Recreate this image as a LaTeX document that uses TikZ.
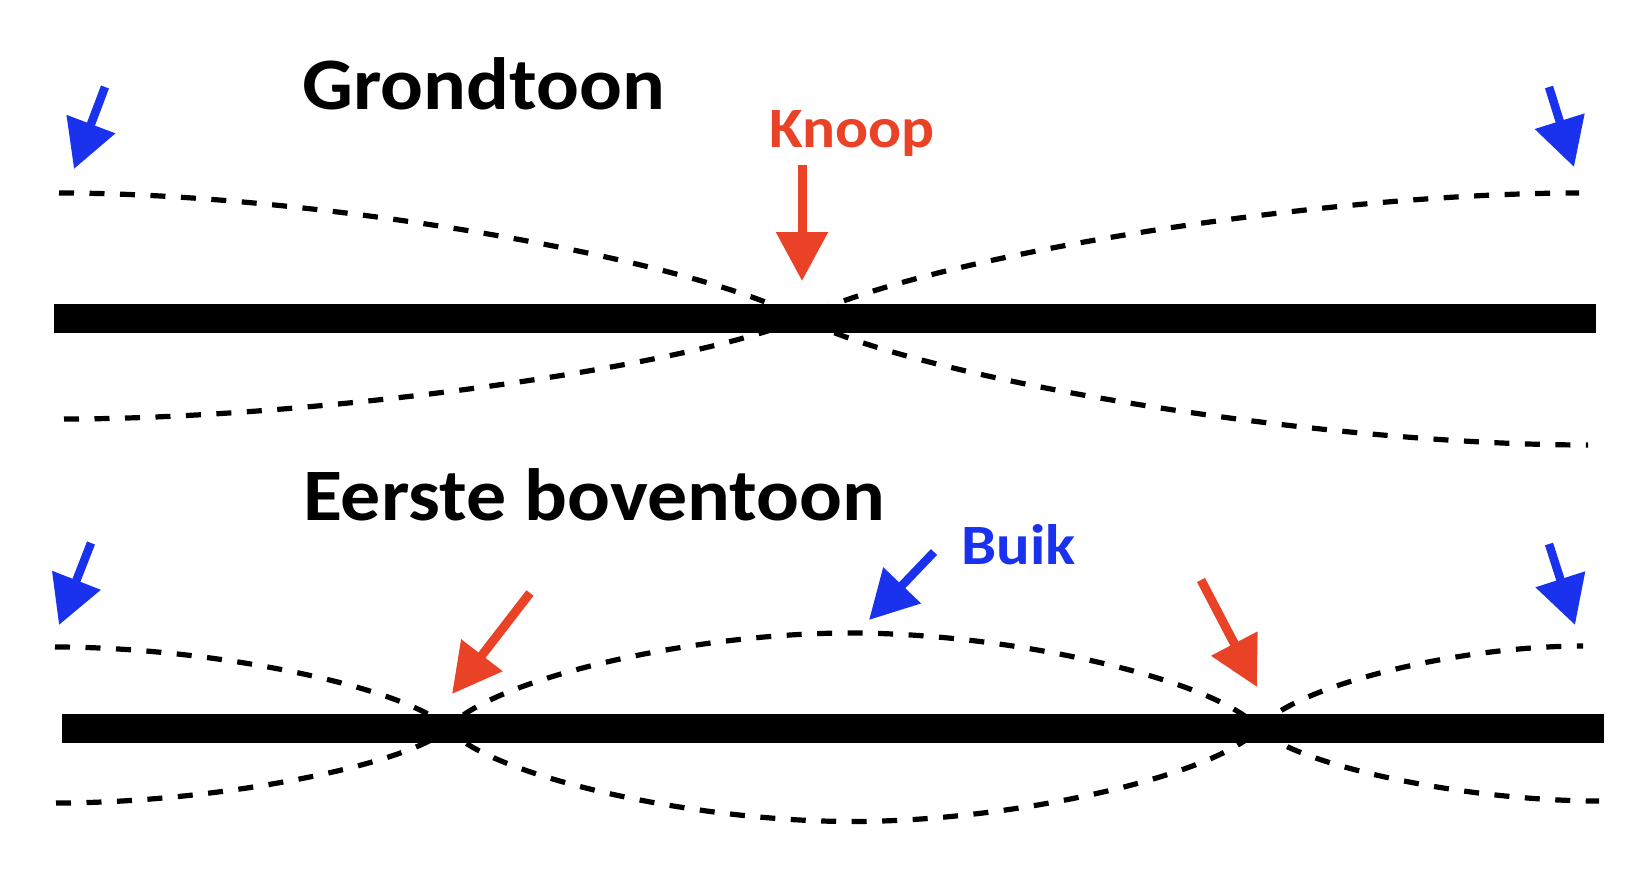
\documentclass[tikz,border=0pt]{standalone}
\usepackage{fontspec}
\setmainfont{Carlito}
\usetikzlibrary{arrows.meta}
\definecolor{knred}{RGB}{233,66,38}
\definecolor{bkblue}{RGB}{26,50,238}
\tikzset{
  dashline/.style={line width=5.2pt, dash pattern=on 15pt off 15.5pt, black},
  barfill/.style={fill=black},
  bluearr/.style={bkblue, line width=8.5pt, -{Triangle[length=48pt,width=50pt]}},
  redarr/.style={knred, line width=9pt, -{Triangle[length=49pt,width=50pt]}},
  title/.style={anchor=base west, inner sep=0pt, font=\bfseries\fontsize{74}{80}\selectfont},
  lbl/.style={anchor=base west, inner sep=0pt, font=\bfseries\fontsize{57}{62}\selectfont}
}
\begin{document}
\begin{tikzpicture}[x=1pt,y=-1pt]
\useasboundingbox[fill=white] (0,0) rectangle (1631,891);

% bars
\fill[barfill] (54,304) rectangle (1596,333);
\fill[barfill] (62,714) rectangle (1604,743);

% texts
\node[title] (grond) at (302,110) {\scalebox{1.08}[1]{Grondtoon}};
\node[title] (eerste) at (303,520) {\scalebox{1.08}[1]{Eerste boventoon}};
\node[lbl, text=knred] (knoop) at (769,147) {\scalebox{1.08}[1]{Knoop}};
\node[lbl, text=bkblue] (buik) at (961,564) {\scalebox{1.1}[1]{Buik}};

% nodes of the waves
\coordinate (n0) at (802,318.5);
\coordinate (n1) at (448,728.5);
\coordinate (n2) at (1259,728.5);

% top curves
\draw[dashline] (59,193) .. controls (312,193) and (691,258.5) .. (n0)
  .. controls (920,379.5) and (1321,445) .. (1588,445);
\draw[dashline] (64,419) .. controls (315,419) and (691,366.5) .. (n0)
  .. controls (919,258.5) and (1315,193) .. (1579,193);

% bottom curves
\draw[dashline] (55,647) .. controls (212,647) and (409,687.5) .. (n1)
  .. controls (488,680.5) and (689,633) .. (850,633)
  .. controls (1014,633) and (1218,680.5) .. (n2)
  .. controls (1291,687.5) and (1453,646) .. (1583,646);
\draw[dashline] (56,803) .. controls (213,803) and (409,765.5) .. (n1)
  .. controls (488,775) and (690,821.5) .. (852,821.5)
  .. controls (1015,821.5) and (1218,775) .. (n2)
  .. controls (1293,764.5) and (1463,801) .. (1599,801);

% arrow coordinates
\coordinate (tlA) at (105,87);   \coordinate (tlB) at (74,169);
\coordinate (trA) at (1549,87);  \coordinate (trB) at (1574,167);
\coordinate (knA) at (802,165);  \coordinate (knB) at (802,281);
\coordinate (blA) at (91,543);   \coordinate (blB) at (59,625);
\coordinate (brA) at (1549,544); \coordinate (brB) at (1575,625);
\coordinate (buA) at (934,552);  \coordinate (buB) at (869,620);
\coordinate (r1A) at (530,593);  \coordinate (r1B) at (452,694);
\coordinate (r2A) at (1201,580); \coordinate (r2B) at (1257,687);

\draw[bluearr] (tlA) -- (tlB);
\draw[bluearr] (trA) -- (trB);
\draw[bluearr] (blA) -- (blB);
\draw[bluearr] (brA) -- (brB);
\draw[bluearr] (buA) -- (buB);
\draw[redarr] (knA) -- (knB);
\draw[redarr] (r1A) -- (r1B);
\draw[redarr] (r2A) -- (r2B);
\end{tikzpicture}
\end{document}
